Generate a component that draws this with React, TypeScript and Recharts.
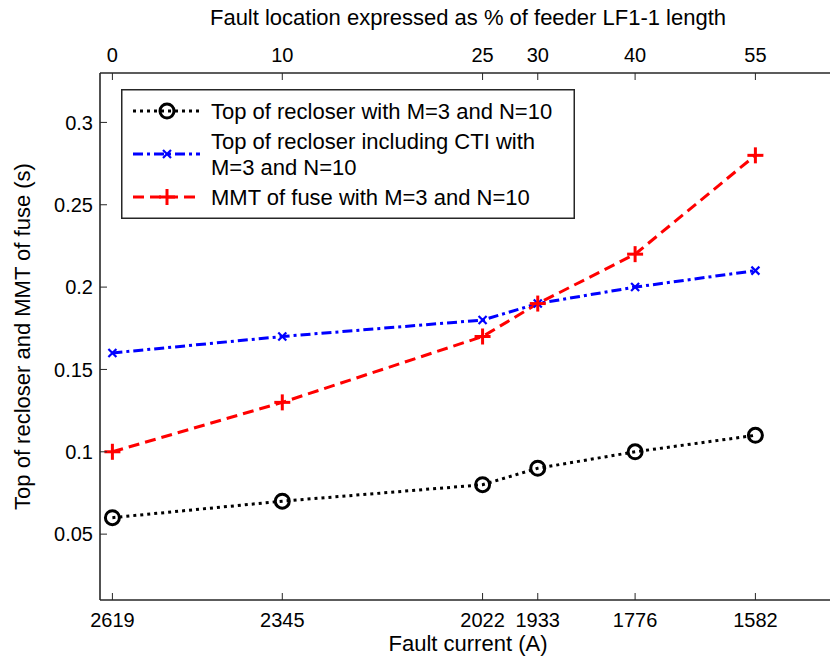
import React from 'react';
import { LineChart, Line, XAxis, YAxis, Legend } from 'recharts';

// Fault current at each studied location (A) and the matching position along the feeder (%)
const faultCurrent = [2619, 2345, 2022, 1933, 1776, 1582];
const faultLocationPct = [0, 10, 25, 30, 40, 55];

// Operating times (s)
const recloserTop = [0.06, 0.07, 0.08, 0.09, 0.1, 0.11];
const recloserTopWithCti = [0.16, 0.17, 0.18, 0.19, 0.2, 0.21];
const fuseMmt = [0.1, 0.13, 0.17, 0.19, 0.22, 0.28];

const timeTicks = [0.05, 0.1, 0.15, 0.2, 0.25, 0.3];
const timeTickLabels = ['0.05', '0.1', '0.15', '0.2', '0.25', '0.3'];

const legendLabels = {
  recloser: 'Top of recloser with M=3 and N=10',
  ctiLine1: 'Top of recloser including CTI with',
  ctiLine2: 'M=3 and N=10',
  fuse: 'MMT of fuse with M=3 and N=10',
};

const data = faultCurrent.map((current, i) => ({
  current,
  recloser: recloserTop[i],
  cti: recloserTopWithCti[i],
  fuse: fuseMmt[i],
}));

const FONT = '"Liberation Sans", Arial, Helvetica, sans-serif';
const AXIS = '#262626';
const TICK_LEN = 7;
const TICK_FONT = 20;
const LABEL_FONT = 22;

const BLACK_DASH = '3 4';
const BLUE_DASH = '10 4 3 4';
const RED_DASH = '11 6';

// ---- markers ----
const CircleMark = ({ cx, cy }: { cx: number; cy: number }) => (
  <circle cx={cx} cy={cy} r={7} fill="none" stroke="#000" strokeWidth={3} />
);
const CrossMark = ({ cx, cy }: { cx: number; cy: number }) => (
  <g stroke="#0000ff" strokeWidth={2.2}>
    <line x1={cx - 4} y1={cy - 4} x2={cx + 4} y2={cy + 4} />
    <line x1={cx - 4} y1={cy + 4} x2={cx + 4} y2={cy - 4} />
  </g>
);
const PlusMark = ({ cx, cy }: { cx: number; cy: number }) => (
  <g stroke="#ff0000" strokeWidth={3}>
    <line x1={cx - 8} y1={cy} x2={cx + 8} y2={cy} />
    <line x1={cx} y1={cy - 8} x2={cx} y2={cy + 8} />
  </g>
);

// ---- inward ticks (box style axes) ----
const BottomTick = (props: any) => {
  const { x, y, payload } = props;
  return (
    <g>
      <line x1={x} y1={y} x2={x} y2={y - TICK_LEN} stroke={AXIS} strokeWidth={1} />
      <text x={x} y={y + 27} textAnchor="middle" fontSize={TICK_FONT} fontFamily={FONT} fill="#000">
        {payload.value}
      </text>
    </g>
  );
};

const TopTick = (props: any) => {
  const { x, y, payload } = props;
  const idx = faultCurrent.indexOf(payload.value);
  return (
    <g>
      <line x1={x} y1={y} x2={x} y2={y + TICK_LEN} stroke={AXIS} strokeWidth={1} />
      <text x={x} y={y - 11} textAnchor="middle" fontSize={TICK_FONT} fontFamily={FONT} fill="#000">
        {idx >= 0 ? faultLocationPct[idx] : ''}
      </text>
    </g>
  );
};

const LeftTick = (props: any) => {
  const { x, y, payload } = props;
  const idx = timeTicks.indexOf(payload.value);
  return (
    <g>
      <line x1={x} y1={y} x2={x + TICK_LEN} y2={y} stroke={AXIS} strokeWidth={1} />
      <text x={x - 7} y={y} dy="0.36em" textAnchor="end" fontSize={TICK_FONT} fontFamily={FONT} fill="#000">
        {idx >= 0 ? timeTickLabels[idx] : ''}
      </text>
    </g>
  );
};

const RightTick = (props: any) => {
  const { x, y } = props;
  return <line x1={x} y1={y} x2={x - TICK_LEN} y2={y} stroke={AXIS} strokeWidth={1} />;
};

// ---- legend box ----
const LEG_W = 454;
const LEG_H = 130;
const legendText = { fontSize: LABEL_FONT, fontFamily: FONT, fill: '#000' } as const;

const LegendBox = () => (
  <svg width={LEG_W} height={LEG_H} style={{ display: 'block' }}>
    <rect x={0.75} y={0.75} width={LEG_W - 1.5} height={LEG_H - 1.5} fill="#fff" stroke={AXIS} strokeWidth={1.5} />
    <line x1={12} x2={79} y1={22} y2={22} stroke="#000" strokeWidth={3} strokeDasharray={BLACK_DASH} />
    <CircleMark cx={46} cy={22} />
    <text x={90} y={22} dy="0.36em" {...legendText}>{legendLabels.recloser}</text>

    <line x1={12} x2={79} y1={65} y2={65} stroke="#0000ff" strokeWidth={3} strokeDasharray={BLUE_DASH} />
    <CrossMark cx={46} cy={65} />
    <text x={90} y={52} dy="0.36em" {...legendText}>{legendLabels.ctiLine1}</text>
    <text x={90} y={78} dy="0.36em" {...legendText}>{legendLabels.ctiLine2}</text>

    <line x1={12} x2={79} y1={108} y2={108} stroke="#ff0000" strokeWidth={3} strokeDasharray={RED_DASH} />
    <PlusMark cx={46} cy={108} />
    <text x={90} y={108} dy="0.36em" {...legendText}>{legendLabels.fuse}</text>
  </svg>
);

export default function App() {
  const xDomain: [number, number] = [1452, 2639];
  const axisLine = { stroke: AXIS, strokeWidth: 1.6 };
  return (
    <div
      style={{
        position: 'absolute',
        left: 0,
        top: 0,
        width: 830,
        height: 664,
        overflow: 'hidden',
        background: '#fff',
      }}
    >
      <LineChart width={870} height={664} data={data} margin={{ top: 0, right: 0, bottom: 0, left: 0 }}>
        <XAxis
          xAxisId="bottom"
          dataKey="current"
          type="number"
          domain={xDomain}
          reversed
          ticks={faultCurrent}
          orientation="bottom"
          height={64}
          axisLine={axisLine}
          tickLine={false}
          tickSize={0}
          tickMargin={0}
          tick={<BottomTick />}
          interval={0}
          label={{
            value: 'Fault current (A)',
            position: 'insideBottom',
            offset: 13,
            style: { fontSize: LABEL_FONT, fontFamily: FONT, fill: '#000' },
          }}
        />
        <XAxis
          xAxisId="top"
          dataKey="current"
          type="number"
          domain={xDomain}
          reversed
          ticks={faultCurrent}
          orientation="top"
          height={73}
          axisLine={axisLine}
          tickLine={false}
          tickSize={0}
          tickMargin={0}
          tick={<TopTick />}
          interval={0}
          label={{
            value: 'Fault location expressed as % of feeder LF1-1 length',
            position: 'insideTop',
            offset: 9,
            style: { fontSize: LABEL_FONT, fontFamily: FONT, fill: '#000' },
          }}
        />
        <YAxis
          yAxisId="left"
          type="number"
          domain={[0.01, 0.33]}
          ticks={timeTicks}
          orientation="left"
          width={100}
          axisLine={axisLine}
          tickLine={false}
          tickSize={0}
          tickMargin={0}
          tick={<LeftTick />}
          interval={0}
          label={{
            value: 'Top of recloser and MMT of fuse (s)',
            angle: -90,
            position: 'insideLeft',
            offset: 22,
            style: { fontSize: LABEL_FONT, fontFamily: FONT, fill: '#000', textAnchor: 'middle' },
          }}
        />
        <YAxis
          yAxisId="right"
          type="number"
          domain={[0.01, 0.33]}
          ticks={timeTicks}
          orientation="right"
          width={34}
          axisLine={axisLine}
          tickLine={false}
          tickSize={0}
          tickMargin={0}
          tick={<RightTick />}
          interval={0}
        />
        <Legend
          layout="vertical"
          align="center"
          verticalAlign="middle"
          content={() => <LegendBox />}
          wrapperStyle={{ position: 'absolute', left: 121, top: 89, width: LEG_W, height: LEG_H }}
        />
        <Line
          xAxisId="bottom"
          yAxisId="left"
          type="linear"
          dataKey="recloser"
          stroke="#000"
          strokeWidth={3}
          strokeDasharray={BLACK_DASH}
          dot={(p: any) => <CircleMark key={`rec-${p.index}`} cx={p.cx} cy={p.cy} />}
          activeDot={false}
          isAnimationActive={false}
        />
        <Line
          xAxisId="bottom"
          yAxisId="left"
          type="linear"
          dataKey="cti"
          stroke="#0000ff"
          strokeWidth={3}
          strokeDasharray={BLUE_DASH}
          dot={(p: any) => <CrossMark key={`cti-${p.index}`} cx={p.cx} cy={p.cy} />}
          activeDot={false}
          isAnimationActive={false}
        />
        <Line
          xAxisId="bottom"
          yAxisId="left"
          type="linear"
          dataKey="fuse"
          stroke="#ff0000"
          strokeWidth={3}
          strokeDasharray={RED_DASH}
          dot={(p: any) => <PlusMark key={`fuse-${p.index}`} cx={p.cx} cy={p.cy} />}
          activeDot={false}
          isAnimationActive={false}
        />
      </LineChart>
    </div>
  );
}
